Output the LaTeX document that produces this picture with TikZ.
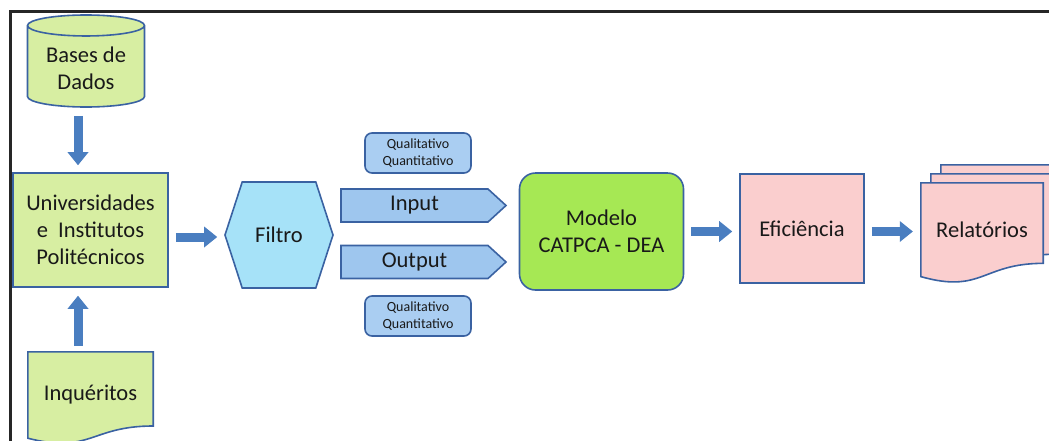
\documentclass[tikz,border=0pt]{standalone}
\usepackage{fontspec}
\setmainfont{Carlito}
\usepackage{tikz}
\usetikzlibrary{positioning,arrows.meta,shapes.geometric,shapes.symbols,calc,backgrounds}

\definecolor{edgeblue}{RGB}{58,98,162}
\definecolor{arrowblue}{RGB}{74,126,192}
\definecolor{textdark}{RGB}{25,25,25}
\definecolor{lightgreen}{RGB}{215,238,162}
\definecolor{modelgreen}{RGB}{166,232,84}
\definecolor{cyanfill}{RGB}{166,226,248}
\definecolor{sigblue}{RGB}{158,198,238}
\definecolor{qualblue}{RGB}{170,206,242}
\definecolor{pinkfill}{RGB}{250,206,206}

\begin{document}
\begin{tikzpicture}[
    x=1pt, y=1pt,
    font=\fontsize{22.5}{27}\selectfont,
    box/.style={draw=edgeblue, line width=1.6pt, align=center, text=textdark, inner sep=2pt},
    greenbox/.style={box, fill=lightgreen},
    dbshape/.style={box, fill=lightgreen, cylinder, shape border rotate=90, aspect=0.25},
    hexbox/.style={box, fill=cyanfill, signal, signal to=west and east, signal pointer angle=144},
    sigbox/.style={box, fill=sigblue, signal, signal to=east, signal pointer angle=85,
      minimum width=165pt, minimum height=33pt},
    qualbox/.style={box, fill=qualblue, rounded corners=7pt, minimum width=106pt, minimum height=40pt,
      font=\fontsize{14}{17}\selectfont},
    docnode/.style={align=center, text=textdark, inner sep=2pt},
    docline/.style={draw=edgeblue, line width=1.6pt},
    fatarrow/.style={draw=arrowblue, line width=9pt,
      -{Triangle[length=13pt, width=21pt, line width=0pt]}},
  ]
    \useasboundingbox (0,0) rectangle (1049,-440);
    \draw[line width=3pt, black!85] (10,-450) -- (10,-11.5) -- (1060,-11.5);

    % left column
    \node[dbshape, minimum width=117pt, minimum height=92pt] (db) at (86,-68) {Bases de\\Dados};
    \node[greenbox, minimum width=155pt, minimum height=114pt] (univ) at (90.5,-230)
      {Universidades\\e~ Institutos\\Politécnicos};
    \node[docnode, minimum width=125pt, minimum height=86pt] (inq) at (90.5,-395) {Inquéritos};

    \node[hexbox, minimum width=108pt, minimum height=106pt] (filtro) at (279,-235) {Filtro};

    % input / output
    \node[qualbox] (qualin)  at (418,-153) {Qualitativo\\Quantitativo};
    \node[sigbox]  (input)   at (414.5,-205.5) {Input};
    \node[sigbox]  (output)  at (414.5,-262) {Output};
    \node[qualbox] (qualout) at (418,-316) {Qualitativo\\Quantitativo};

    % right part
    \node[box, fill=modelgreen, rounded corners=16pt, minimum width=164pt, minimum height=117pt]
      (modelo) at (601.5,-231.5) {Modelo\\CATPCA - DEA};
    \node[box, fill=pinkfill, minimum width=124pt, minimum height=109pt] (efic) at (802,-228.5) {Eficiência};
    \node[docnode, minimum width=122pt, minimum height=93.4pt] (rel) at (982,-229.7) {Relatórios};

    \begin{scope}[on background layer]
      \filldraw[docline, fill=lightgreen] let \p1=(inq.north west), \p2=(inq.south east), \n1={\y2-\y1} in
        (\x1,\y1) -- (\x2,\y1) -- (\x2,{\y1+0.8587*\n1})
        .. controls ({(\x1+\x2)/2},{\y1+0.8587*\n1}) and ({(\x1+\x2)/2},{\y1+1.1852*\n1}) .. (\x1,\y2) -- cycle;
      \foreach \d in {20,10,0}
        \filldraw[docline, fill=pinkfill] let \p1=($(rel.north west)+(\d,0.9*\d)$),
          \p2=($(rel.south east)+(\d,0.9*\d)$), \n1={\y2-\y1} in
          (\x1,\y1) -- (\x2,\y1) -- (\x2,{\y1+0.8587*\n1})
          .. controls ({(\x1+\x2)/2},{\y1+0.8587*\n1}) and ({(\x1+\x2)/2},{\y1+1.1852*\n1}) .. (\x1,\y2) -- cycle;
    \end{scope}

    % block arrows
    \draw[fatarrow, shorten <=8pt, shorten >=7pt] ([xshift=-8pt]db.south) -- ([xshift=-8pt]db.south |- univ.north);
    \draw[fatarrow, shorten <=6pt, shorten >=8pt] ([xshift=-12.5pt]inq.north) -- ([xshift=-12.5pt]inq.north |- univ.south);
    \draw[fatarrow, shorten <=7pt, shorten >=7pt] ([yshift=-7pt]univ.east) -- ([yshift=-7pt]univ.east -| filtro.west);
    \draw[fatarrow, shorten <=7pt, shorten >=7pt] (modelo.east) -- (modelo.east -| efic.west);
    \draw[fatarrow, shorten <=7pt, shorten >=8pt] ([yshift=-3pt]efic.east) -- ([yshift=-3pt]efic.east -| rel.west);
  \end{tikzpicture}
\end{document}
